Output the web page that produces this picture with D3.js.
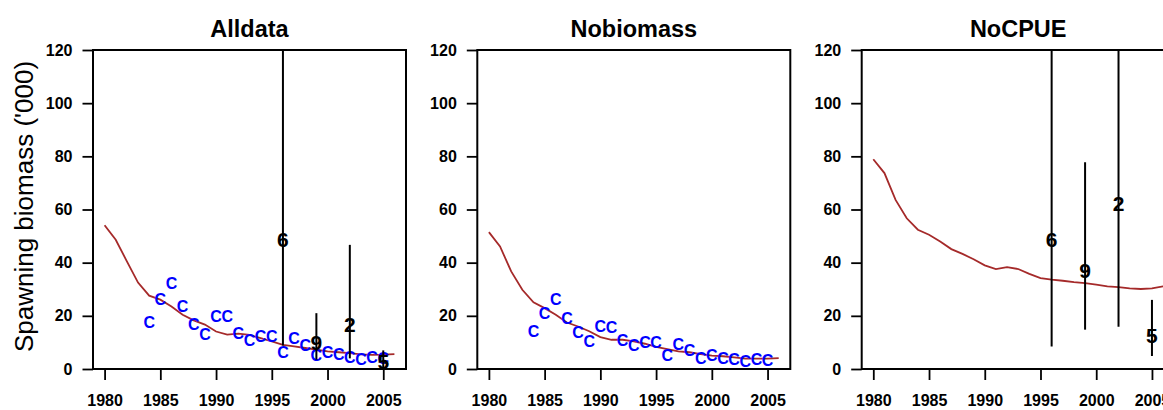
<!DOCTYPE html>
<html>
<head>
<meta charset="utf-8">
<script src="https://cdn.jsdelivr.net/npm/d3@7"></script>
<style>
    body { margin: 0; background: #fff; }
    text { font-family: "Liberation Sans", Arial, sans-serif; }
</style>
</head>
<body>
<div id="chart"></div>
<script>
// values
const years = [1980, 1981, 1982, 1983, 1984, 1985, 1986, 1987, 1988, 1989, 1990,
    1991, 1992, 1993, 1994, 1995, 1996, 1997, 1998, 1999, 2000, 2001, 2002, 2003,
    2004, 2005, 2006];
const cpueYears = [1984, 1985, 1986, 1987, 1988, 1989, 1990, 1991, 1992, 1993, 1994,
    1995, 1996, 1997, 1998, 1999, 2000, 2001, 2002, 2003, 2004, 2005];
const surveyYears = [1996, 1999, 2002, 2005];
const surveyLabels = ["6", "9", "2", "5"];

const panelTitles = ["Alldata", "Nobiomass", "NoCPUE"];
const xTicks = [1980, 1985, 1990, 1995, 2000, 2005];
const yTicks = [0, 20, 40, 60, 80, 100, 120];

// spawning biomass trajectories
const alldataBiomass = [54.1, 48.6, 40.5, 32.5, 27.6, 26.1, 23.5, 20.4, 18.3, 16.7, 14.1,
    12.9, 13.3, 12.8, 11.6, 10.4, 9.1, 8.5, 7.9, 7.3, 6.6, 6.3, 6.0, 5.5, 5.3, 5.4, 5.6];
const nobiomassBiomass = [51.5, 46.1, 36.7, 29.8, 25.1, 22.9, 20.4, 17.5, 16.0, 14.2, 12.0,
    11.0, 11.0, 10.4, 9.5, 8.3, 7.5, 6.6, 6.3, 5.6, 5.0, 4.8, 4.4, 3.9, 3.9, 3.9, 4.1];
const nocpueBiomass = [78.9, 73.7, 63.6, 56.7, 52.4, 50.5, 48.0, 45.1, 43.3, 41.3, 39.0,
    37.6, 38.3, 37.6, 35.8, 34.2, 33.6, 33.2, 32.7, 32.3, 31.7, 31.1, 30.8, 30.3, 30.1, 30.3, 31.1];

// cpue index points ("C")
const alldataCpue = [17.5, 26.1, 32.1, 23.5, 17.0, 12.9, 19.8, 19.8, 13.5, 11.0, 12.3,
    12.3, 6.3, 11.6, 8.8, 5.0, 6.3, 5.4, 4.5, 3.5, 4.5, 4.0];
const nobiomassCpue = [14.2, 21.0, 26.1, 19.2, 13.8, 10.4, 16.0, 15.8, 10.8, 8.8, 10.0,
    10.0, 5.0, 9.5, 7.0, 4.1, 5.0, 4.1, 3.5, 2.9, 3.5, 3.3];

// survey estimates with their intervals
const alldataSurvey = [48.8, 10.0, 16.9, 2.8];
const alldataSurveyLow = [8.8, 3.5, 4.0, 0];
const alldataSurveyHigh = [185, 21.0, 46.7, 7.0];
const nocpueSurvey = [48.6, 37.1, 62.2, 12.7];
const nocpueSurveyLow = [8.5, 14.8, 15.9, 4.9];
const nocpueSurveyHigh = [185, 77.8, 160, 26.0];

const panels = [
    {title: panelTitles[0], biomass: alldataBiomass, cpue: alldataCpue,
        survey: alldataSurvey, low: alldataSurveyLow, high: alldataSurveyHigh},
    {title: panelTitles[1], biomass: nobiomassBiomass, cpue: nobiomassCpue,
        survey: null},
    {title: panelTitles[2], biomass: nocpueBiomass, cpue: null,
        survey: nocpueSurvey, low: nocpueSurveyLow, high: nocpueSurveyHigh}
];

const width = 1163, height = 410;
const plotW = 313, plotTop = 50, plotBottom = 369;
const plotLefts = [93, 477.3, 861.7];

const svg = d3.select("#chart")
    .append("svg")
    .attr("width", width)
    .attr("height", height);

// R style x range, 4% padding on each side
const xPad = 0.04 * (years[years.length - 1] - years[0]);
const x = d3.scaleLinear()
    .domain([years[0] - xPad, years[years.length - 1] + xPad])
    .range([0, plotW]);
const y = d3.scaleLinear()
    .domain([0, 120])
    .range([plotBottom, plotTop]);

function drawPanel(panel, i) {
    const g = svg.append("g")
        .attr("transform", "translate(" + plotLefts[i] + ",0)");

    g.append("clipPath")
        .attr("id", "clip" + i)
        .append("rect")
        .attr("x", 0)
        .attr("y", plotTop)
        .attr("width", plotW)
        .attr("height", plotBottom - plotTop);

    const inner = g.append("g").attr("clip-path", "url(#clip" + i + ")");

    // biomass trajectory
    const line = d3.line()
        .x(function (d, j) { return x(years[j]); })
        .y(function (d) { return y(d); });
    inner.append("path")
        .datum(panel.biomass)
        .attr("fill", "none")
        .attr("stroke", "#a52a2a")
        .attr("stroke-width", 1.8)
        .attr("d", line);

    // cpue points
    if (panel.cpue) {
        inner.selectAll(".cpue")
            .data(panel.cpue)
            .join("text")
            .attr("class", "cpue")
            .attr("x", function (d, j) { return x(cpueYears[j]); })
            .attr("y", function (d) { return y(d); })
            .attr("dy", "0.36em")
            .attr("text-anchor", "middle")
            .attr("font-size", "16px")
            .attr("font-weight", "bold")
            .attr("fill", "#0000ff")
            .text("C");
    }

    // survey intervals + labels
    if (panel.survey) {
        inner.selectAll(".ci")
            .data(panel.survey)
            .join("line")
            .attr("class", "ci")
            .attr("x1", function (d, j) { return x(surveyYears[j]); })
            .attr("x2", function (d, j) { return x(surveyYears[j]); })
            .attr("y1", function (d, j) { return y(panel.low[j]); })
            .attr("y2", function (d, j) { return y(panel.high[j]); })
            .attr("stroke", "#000")
            .attr("stroke-width", 2);

        inner.selectAll(".slab")
            .data(panel.survey)
            .join("text")
            .attr("class", "slab")
            .attr("x", function (d, j) { return x(surveyYears[j]); })
            .attr("y", function (d) { return y(d); })
            .attr("dy", "0.36em")
            .attr("text-anchor", "middle")
            .attr("font-size", "21px")
            .attr("font-weight", "bold")
            .attr("fill", "#000")
            .text(function (d, j) { return surveyLabels[j]; });
    }

    // box
    g.append("rect")
        .attr("x", 0)
        .attr("y", plotTop)
        .attr("width", plotW)
        .attr("height", plotBottom - plotTop)
        .attr("fill", "none")
        .attr("stroke", "#000")
        .attr("stroke-width", 2);

    // axes
    const xAxis = g.append("g")
        .attr("transform", "translate(0," + plotBottom + ")")
        .call(d3.axisBottom(x).tickValues(xTicks).tickFormat(d3.format("d"))
            .tickSizeInner(11).tickSizeOuter(0).tickPadding(15));
    const yAxis = g.append("g")
        .call(d3.axisLeft(y).tickValues(yTicks)
            .tickSizeInner(10.5).tickSizeOuter(0).tickPadding(10));

    [xAxis, yAxis].forEach(function (a) {
        a.select(".domain").remove();
        a.selectAll("line").attr("stroke", "#000").attr("stroke-width", 1.8);
        a.selectAll("text")
            .attr("fill", "#000")
            .attr("font-size", "16px")
            .attr("font-weight", "bold")
            .attr("font-family", "'Liberation Sans', Arial, sans-serif");
    });

    // title
    g.append("text")
        .attr("x", plotW / 2)
        .attr("y", 36.5)
        .attr("text-anchor", "middle")
        .attr("font-size", "23.5px")
        .attr("font-weight", "bold")
        .text(panel.title);
}

panels.forEach(drawPanel);

// shared y label on the left panel
svg.append("text")
    .attr("transform", "translate(33," + ((plotTop + plotBottom) / 2 - 3) + ") rotate(-90)")
    .attr("text-anchor", "middle")
    .attr("font-size", "26px")
    .text("Spawning biomass ('000)");
</script>
</body>
</html>
